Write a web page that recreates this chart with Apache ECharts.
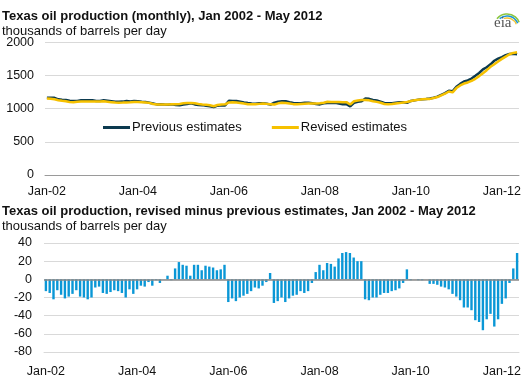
<!DOCTYPE html>
<html>
<head>
<meta charset="utf-8">
<script src="https://cdn.jsdelivr.net/npm/echarts@6/dist/echarts.min.js"></script>
<style>
html,body{margin:0;padding:0;background:#fff;}
#chart{width:524px;height:378px;}
</style>
</head>
<body>
<div id="chart"></div>
<script>
// ---- data ----
const monthNames = ['Jan','Feb','Mar','Apr','May','Jun','Jul','Aug','Sep','Oct','Nov','Dec'];
const categories = [];
for (let y = 2002; y <= 2012; y++) {
  for (let m = 0; m < 12; m++) {
    if (y === 2012 && m > 4) break;
    categories.push(monthNames[m] + '-' + String(y).slice(2));
  }
}
const tickLabels = ['Jan-02','Jan-04','Jan-06','Jan-08','Jan-10','Jan-12'];
const topTicks = [0, 500, 1000, 1500, 2000];
const bottomTicks = [-80, -60, -40, -20, 0, 20, 40];

const previousEstimates = [
  1165,1163,1163,1140,1135,1132,1119,1114,1117,1125,1126,1128,
  1127,1115,1116,1126,1121,1112,1103,1103,1106,1114,1107,1116,
  1111,1104,1102,1090,1077,1064,1065,1061,1058,1066,1056,1052,
  1064,1071,1082,1064,1055,1053,1043,1036,1023,1045,1051,1049,
  1119,1116,1115,1105,1094,1084,1079,1075,1082,1083,1075,1061,
  1089,1104,1110,1111,1098,1086,1083,1083,1088,1089,1080,1069,
  1064,1080,1086,1085,1087,1077,1067,1068,1033,1088,1104,1111,
  1152,1148,1132,1122,1105,1085,1081,1083,1090,1096,1097,1089,
  1116,1125,1136,1143,1146,1152,1165,1181,1208,1234,1269,1261,
  1329,1373,1409,1426,1454,1495,1537,1591,1624,1668,1722,1754,
  1777,1806,1824,1828,1821
];
const revisedEstimates = [
  1152,1148,1141,1128,1118,1111,1100,1098,1105,1106,1106,1106,
  1107,1106,1108,1111,1105,1098,1091,1090,1091,1094,1096,1100,
  1100,1097,1094,1087,1070,1063,1061,1061,1062,1065,1068,1071,
  1080,1086,1086,1080,1071,1063,1058,1050,1036,1055,1062,1065,
  1094,1095,1091,1085,1076,1068,1066,1066,1072,1076,1072,1068,
  1063,1080,1090,1086,1077,1068,1066,1070,1073,1076,1076,1077,
  1080,1090,1104,1102,1101,1100,1096,1098,1062,1112,1124,1131,
  1130,1125,1112,1102,1088,1070,1066,1070,1078,1086,1093,1100,
  1115,1125,1135,1142,1146,1147,1160,1175,1200,1225,1258,1245,
  1310,1350,1378,1395,1420,1450,1490,1535,1580,1630,1670,1710,
  1750,1785,1820,1840,1850
];
const revisedMinusPrevious = [
  -13,-15,-22,-12,-17,-21,-19,-16,-12,-19,-20,-22,
  -20,-9,-8,-15,-16,-14,-12,-13,-15,-20,-11,-16,
  -11,-7,-8,-3,-7,-1,-4,0,4,-1,12,19,
  16,15,4,16,16,10,15,14,13,10,11,16,
  -25,-21,-24,-20,-18,-16,-13,-9,-10,-7,-3,7,
  -26,-24,-20,-25,-21,-18,-17,-13,-15,-13,-4,8,
  16,10,18,17,14,23,29,30,29,24,20,20,
  -22,-23,-20,-20,-17,-15,-15,-13,-12,-10,-4,11,
  -1,0,-1,-1,0,-5,-5,-6,-8,-9,-11,-16,
  -19,-23,-31,-31,-34,-45,-47,-56,-44,-38,-52,-44,
  -27,-21,-4,12,29
];

// ---- chart ----
const FONT = '"Liberation Sans", Arial, sans-serif';
const chart = echarts.init(document.getElementById('chart'), null, {renderer: 'canvas'});
const labelInterval = function (index, value) { return tickLabels.indexOf(value) >= 0; };
const plainNumber = function (v) { return String(v); };

const option = {
  animation: false,
  backgroundColor: '#fff',
  textStyle: {fontFamily: FONT},
  grid: [
    {left: 45, right: 4.2, top: 42.3, bottom: 203, containLabel: false},
    {left: 44, right: 4, top: 243, bottom: 23, containLabel: false}
  ],
  legend: {
    data: ['Previous estimates', 'Revised estimates'],
    left: 103, top: 121, padding: 0,
    icon: 'rect', itemWidth: 27, itemHeight: 3, itemGap: 30,
    textStyle: {fontSize: 13, color: '#111', fontFamily: FONT, padding: [0, 0, 0, -3]}
  },
  xAxis: [
    {
      type: 'category', gridIndex: 0, data: categories, boundaryGap: true,
      axisTick: {show: false},
      axisLine: {lineStyle: {color: '#9a9a9a', width: 1}},
      axisLabel: {interval: labelInterval, fontSize: 12.5, color: '#111', margin: 10, fontFamily: FONT},
      splitLine: {show: false}
    },
    {
      type: 'category', gridIndex: 1, data: categories, boundaryGap: true,
      axisTick: {show: false},
      axisLine: {onZero: false, lineStyle: {color: '#d9d9d9', width: 1}},
      axisLabel: {interval: labelInterval, fontSize: 12.5, color: '#111', margin: 13, fontFamily: FONT},
      splitLine: {show: false}
    }
  ],
  yAxis: [
    {
      type: 'value', gridIndex: 0,
      min: topTicks[0], max: topTicks[topTicks.length - 1], interval: 500,
      axisLine: {show: false}, axisTick: {show: false},
      axisLabel: {fontSize: 12.5, color: '#111', margin: 11, fontFamily: FONT, formatter: plainNumber},
      splitLine: {lineStyle: {color: '#d9d9d9', width: 1}}
    },
    {
      type: 'value', gridIndex: 1,
      min: bottomTicks[0], max: bottomTicks[bottomTicks.length - 1], interval: 20,
      axisLine: {show: false}, axisTick: {show: false},
      axisLabel: {fontSize: 12.5, color: '#111', margin: 12, fontFamily: FONT, formatter: plainNumber},
      splitLine: {lineStyle: {color: '#d9d9d9', width: 1}}
    }
  ],
  series: [
    {
      name: 'Previous estimates', type: 'line', xAxisIndex: 0, yAxisIndex: 0,
      data: previousEstimates, symbol: 'none', smooth: false,
      lineStyle: {color: '#0c3a4f', width: 2.5},
      itemStyle: {color: '#0c3a4f'}
    },
    {
      name: 'Revised estimates', type: 'line', xAxisIndex: 0, yAxisIndex: 0,
      data: revisedEstimates, symbol: 'none', smooth: false,
      lineStyle: {color: '#f6c100', width: 2.5},
      itemStyle: {color: '#f6c100'}
    },
    {
      name: 'Revised minus previous', type: 'bar', xAxisIndex: 1, yAxisIndex: 1,
      data: revisedMinusPrevious, barWidth: 2.4,
      itemStyle: {color: '#0a97d6'},
      markLine: {
        silent: true, symbol: 'none', animation: false,
        label: {show: false},
        lineStyle: {color: '#888', type: 'solid', width: 1.5},
        data: [{yAxis: 0}]
      }
    }
  ],
  graphic: [
    {type: 'text', left: 2, top: 10, style: {text: 'Texas oil production (monthly), Jan 2002 - May 2012', font: 'bold 13px ' + FONT, fill: '#111'}},
    {type: 'text', left: 2, top: 25, style: {text: 'thousands of barrels per day', font: '13px ' + FONT, fill: '#111'}},
    {type: 'text', left: 2, top: 205, style: {text: 'Texas oil production, revised minus previous estimates, Jan 2002 - May 2012', font: 'bold 13px ' + FONT, fill: '#111'}},
    {type: 'text', left: 2, top: 220, style: {text: 'thousands of barrels per day', font: '13px ' + FONT, fill: '#111'}},
    {type: 'arc', shape: {cx: 507, cy: 27, r: 13, startAngle: Math.PI * 1.22, endAngle: Math.PI * 1.88}, style: {stroke: '#8cc63f', lineWidth: 1.6, fill: null}},
    {type: 'arc', shape: {cx: 507, cy: 27.5, r: 11.5, startAngle: Math.PI * 1.28, endAngle: Math.PI * 1.88}, style: {stroke: '#1b95d3', lineWidth: 1.5, fill: null}},
    {type: 'arc', shape: {cx: 507, cy: 28, r: 10, startAngle: Math.PI * 1.4, endAngle: Math.PI * 1.88}, style: {stroke: '#f2c230', lineWidth: 1.3, fill: null}},
    {type: 'text', left: 494, top: 16, style: {text: 'eia', font: '15px "Liberation Serif", "DejaVu Serif", serif', fill: '#555'}}
  ]
};
chart.setOption(option);
</script>
</body>
</html>
